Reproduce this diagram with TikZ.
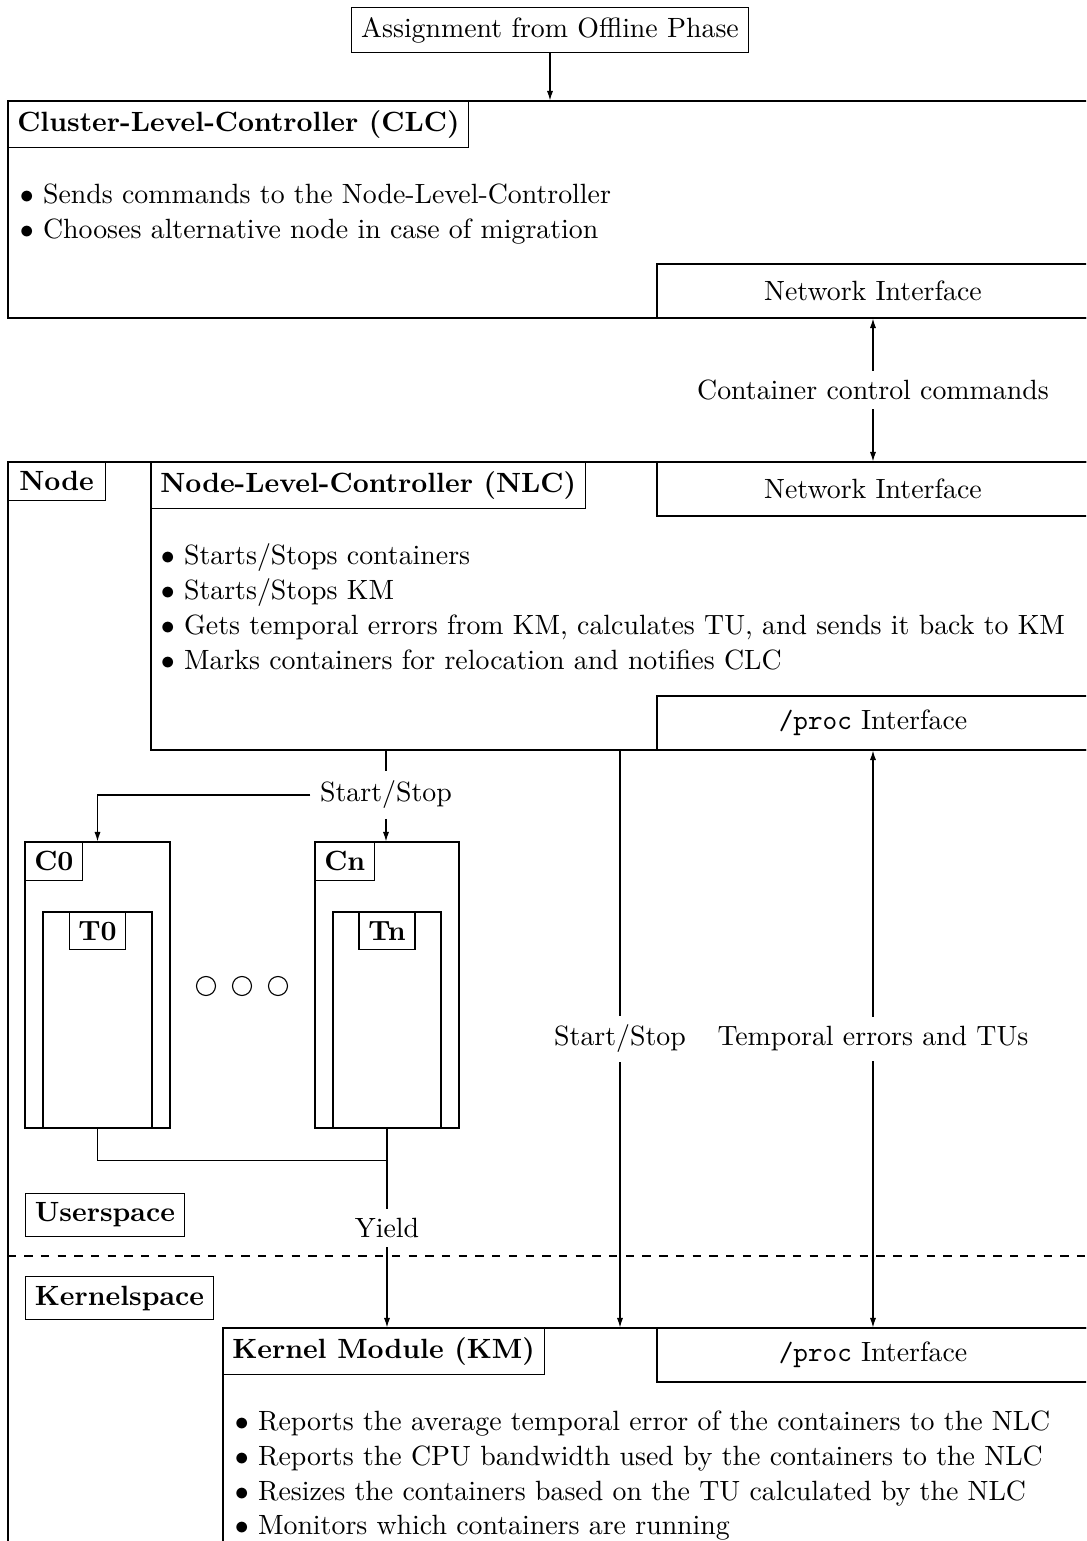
\documentclass[tikz,border=0pt]{standalone}
\usetikzlibrary{positioning,fit,arrows.meta}

\begin{document}
\begin{tikzpicture}[x=0.01262cm,y=-0.01262cm,
         outer/.style = {draw, inner sep=0pt},
         headbox/.style = {draw, anchor=north west, font=\bfseries},
         namebox/.style = {draw, font=\bfseries},
         iface/.style = {draw, minimum width=5.452cm, minimum height=0.681cm},
         items/.style = {align=left, anchor=north west},
         lbl/.style = {fill=white},
         arr/.style = {-{Latex[length=3.4pt,width=2.2pt]}},
         darr/.style = {{Latex[length=3.4pt,width=2.2pt]}-{Latex[length=3.4pt,width=2.2pt]}}
]
      \useasboundingbox (0,0) rectangle (1086,1541);
      \clip (0,0) rectangle (1086,1541);

      % offline phase
      \node[draw] (offline) at (550,30) {Assignment from Offline Phase};

      % cluster level controller
      \node[outer, fit={(8,101) (1089,318)}] (clc) {};
      \node[headbox] (clctitle) at (clc.north west) {Cluster-Level-Controller (CLC)};
      \node[items] (clcitems) at (10,174)
         {$\bullet$ Sends commands to the Node-Level-Controller\\[0.5pt]
          $\bullet$ Chooses alternative node in case of migration};
      \node[iface, anchor=south east] (clcnet) at (clc.south east) {Network Interface};

      % node
      \node[outer, fit={(8,462) (1089,1570)}] (host) {};
      \node[namebox, anchor=north west, minimum width=0.245cm*5] (hostlabel) at (host.north west) {Node};

      % node level controller
      \node[outer, fit={(151,462) (1089,750)}] (nlc) {};
      \node[headbox] (nlctitle) at (nlc.north west) {Node-Level-Controller (NLC)};
      \node[iface, anchor=north east] (nlcnet) at (nlc.north east) {Network Interface};
      \node[items] (nlcitems) at (151,534)
         {$\bullet$ Starts/Stops containers\\[0.5pt]
          $\bullet$ Starts/Stops KM\\[0.5pt]
          $\bullet$ Gets temporal errors from KM, calculates TU, and sends it back to KM\\[0.5pt]
          $\bullet$ Marks containers for relocation and notifies CLC};
      \node[iface, anchor=south east] (nlcproc) at (nlc.south east) {\texttt{/proc} Interface};

      % containers and tasks
      \node[outer, fit={(25,842) (170,1128)}]  (c0) {};
      \node[outer, fit={(43,912) (152,1128)}]  (t0) {};
      \node[outer, fit={(315,842) (459,1128)}] (cn) {};
      \node[outer, fit={(333,912) (441,1128)}] (tn) {};
      \node[namebox, anchor=north west] (c0label) at (c0.north west) {C0};
      \node[namebox, anchor=north west] (cnlabel) at (cn.north west) {Cn};
      \node[namebox, anchor=north]      (t0label) at (t0.north) {T0};
      \node[namebox, anchor=north]      (tnlabel) at (tn.north) {Tn};
      \foreach \cx [count=\i] in {206,242,278}
         \node[draw, circle, minimum size=0.24cm, inner sep=0pt] (dot\i) at (\cx,986) {};

      % user / kernel
      \node[namebox, anchor=south west] (user) at (25,1237) {Userspace};
      \draw[dashed] (host.west |- 0,1256) -- (host.east |- 0,1256);
      \node[namebox, anchor=north west] (kernel) at (25,1276) {Kernelspace};

      % kernel module
      \node[outer, fit={(223,1328) (1089,1570)}] (km) {};
      \node[headbox] (kmtitle) at (km.north west) {Kernel Module (KM)};
      \node[iface, anchor=north east] (kmproc) at (km.north east) {\texttt{/proc} Interface};
      \node[items] (kmitems) at (225,1401)
         {$\bullet$ Reports the average temporal error of the containers to the NLC\\[0.5pt]
          $\bullet$ Reports the CPU bandwidth used by the containers to the NLC\\[0.5pt]
          $\bullet$ Resizes the containers based on the TU calculated by the NLC\\[0.5pt]
          $\bullet$ Monitors which containers are running};

      % connectors
      \draw[arr] (offline) -- (offline |- clc.north);
      \draw[darr] (clcnet) -- node[lbl] (cmds) {Container control commands} (nlcnet);

      \node[lbl] (ss1) at (386,795) {Start/Stop};
      \draw (ss1 |- nlc.south) -- (ss1);
      \draw[arr] (ss1) -- (ss1 |- cn.north);
      \draw[arr] (ss1.west) -| (c0.north);

      \coordinate[below=11.5pt of c0.south] (c0down);
      \draw (c0.south) |- (c0down -| cn.south);
      \draw[arr] (cn) -- node[lbl] (yield) {Yield} (cn |- km.north);

      \draw[arr] (nlc.south) -- node[lbl] (ss2) {Start/Stop} (nlc.south |- km.north);
      \draw[darr] (nlcproc) -- node[lbl] (tetu) {Temporal errors and TUs} (kmproc);
\end{tikzpicture}
\end{document}
